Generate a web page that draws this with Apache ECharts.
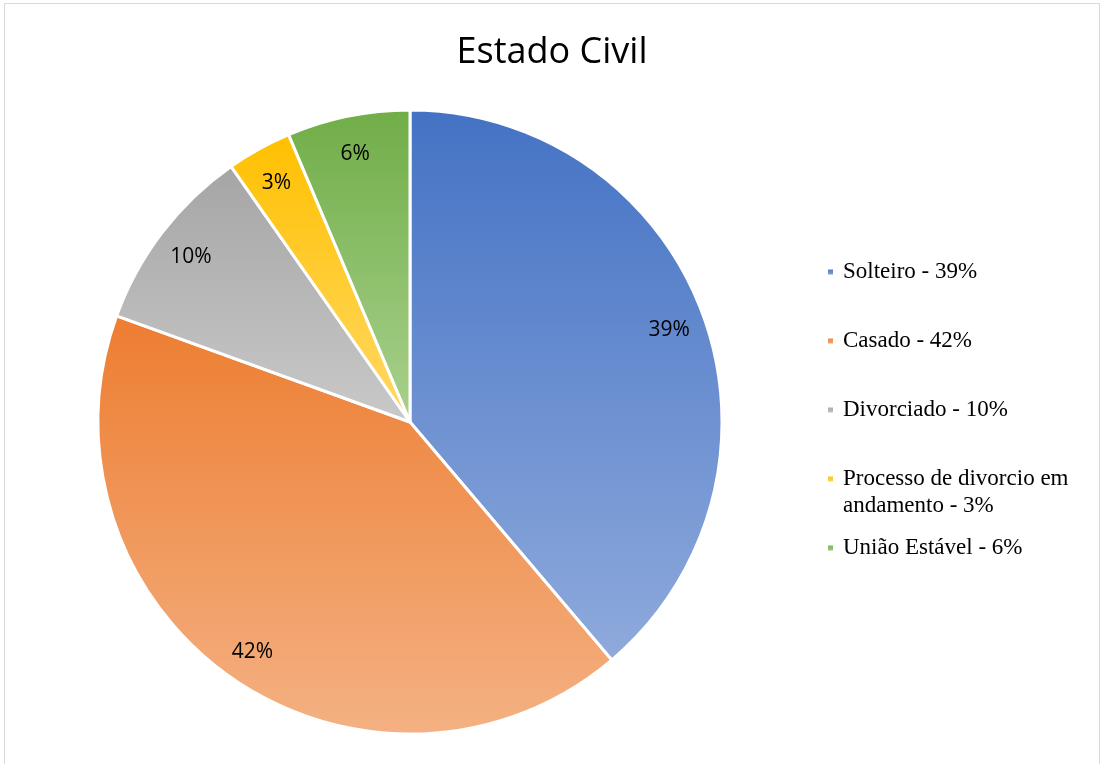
<!DOCTYPE html>
<html>
<head>
<meta charset="utf-8">
<style>html,body{margin:0;padding:0;background:#fff;}#c{width:1104px;height:764px;}</style>
<script src="https://cdn.jsdelivr.net/npm/echarts@6/dist/echarts.min.js"></script>
</head>
<body>
<div id="c"></div>
<script>
const categories = ['Solteiro', 'Casado', 'Divorciado', 'Processo de divorcio em andamento', 'União Estável'];
const values = [38.8, 41.7, 9.75, 3.36, 6.36];
const sliceLabels = ['39%', '42%', '10%', '3%', '6%'];
const legendLabels = ['Solteiro - 39%', 'Casado - 42%', 'Divorciado - 10%', ' \nProcesso de divorcio em\nandamento - 3%', 'União Estável - 6%'];

const gradTop = ['#4472C4', '#ED7D31', '#A5A5A5', '#FFC000', '#70AD47'];
const gradBottom = ['#8FAADC', '#F4B183', '#C9C9C9', '#FFD966', '#A9D18E'];
const legendTops = [258.5, 327.5, 396.5, 438.5, 534.5];

function grad(i) {
  return new echarts.graphic.LinearGradient(0, 0, 0, 1, [
    { offset: 0, color: gradTop[i] },
    { offset: 1, color: gradBottom[i] }
  ]);
}

const chart = echarts.init(document.getElementById('c'), null, { renderer: 'canvas' });

const legends = categories.map((name, i) => ({
  data: [name],
  orient: 'vertical',
  left: 826,
  top: legendTops[i],
  padding: 0,
  icon: 'rect',
  itemWidth: 7,
  itemHeight: 7,
  selectedMode: false,
  formatter: () => legendLabels[i],
  textStyle: {
    fontFamily: '"Liberation Serif", "Times New Roman", serif',
    fontSize: 23,
    lineHeight: 27,
    color: '#000',
    padding: [0, 0, 0, 4]
  }
}));

chart.setOption({
  animation: false,
  backgroundColor: '#fff',
  title: {
    text: 'Estado Civil',
    left: 'center',
    top: 30,
    textStyle: {
      fontFamily: '"Open Sans", sans-serif',
      fontSize: 36,
      fontWeight: 'normal',
      color: '#000'
    }
  },
  graphic: [{
    type: 'rect',
    silent: true,
    shape: { x: 4.5, y: 3.5, width: 1095, height: 800 },
    style: { fill: 'none', stroke: '#D9D9D9', lineWidth: 1 }
  }],
  legend: legends,
  series: [
    {
      type: 'pie',
      center: [410, 422],
      radius: [0, 312],
      startAngle: 90,
      clockwise: true,
      silent: true,
      label: { show: false },
      labelLine: { show: false },
      emphasis: { disabled: true },
      itemStyle: { borderColor: '#fff', borderWidth: 3 },
      data: categories.map((n, i) => ({ name: n, value: values[i], itemStyle: { color: grad(i) } }))
    },
    {
      type: 'pie',
      center: [410, 425],
      radius: [234, 312],
      startAngle: 90,
      clockwise: true,
      silent: true,
      z: 5,
      emphasis: { disabled: true },
      itemStyle: { color: 'rgba(0,0,0,0)', borderWidth: 0 },
      labelLine: { show: false },
      label: {
        show: true,
        position: 'inside',
        formatter: p => sliceLabels[p.dataIndex],
        fontFamily: '"Open Sans", sans-serif',
        fontSize: 21,
        color: '#000'
      },
      data: categories.map((n, i) => ({ name: n, value: values[i] }))
    }
  ]
});
</script>
</body>
</html>
